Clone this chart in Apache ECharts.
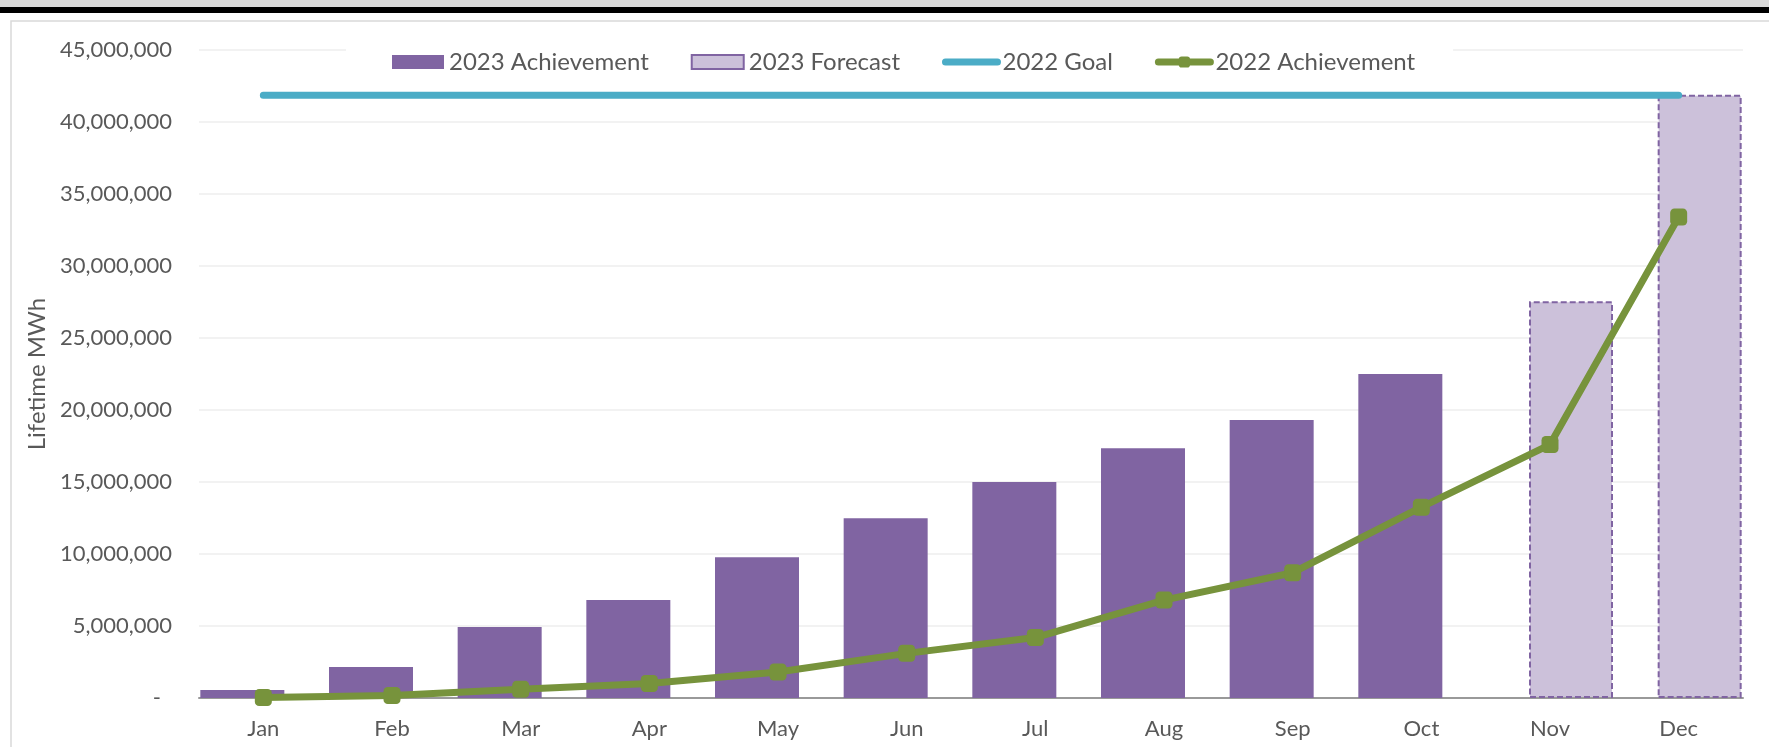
<!DOCTYPE html>
<html>
<head>
<meta charset="utf-8">
<title>Lifetime MWh</title>
<script src="https://cdn.jsdelivr.net/npm/echarts@6/dist/echarts.min.js"></script>
<style>
    html, body { margin: 0; padding: 0; background: #fff; }
    #main { width: 1769px; height: 747px; }
</style>
</head>
<body>
<div id="main"></div>
<script>
    // 月份
    var months = ['Jan', 'Feb', 'Mar', 'Apr', 'May', 'Jun', 'Jul', 'Aug', 'Sep', 'Oct', 'Nov', 'Dec'];

    // 2023 实际 / 预测 (MWh)
    var achievement2023 = [550000, 2150000, 4930000, 6800000, 9780000, 12480000, 15000000, 17350000, 19300000, 22500000, null, null];
    var forecast2023 = [null, null, null, null, null, null, null, null, null, null, 27550000, 41900000];

    // 2022 目标 / 实际
    var goal2022 = [41850000, 41850000, 41850000, 41850000, 41850000, 41850000, 41850000, 41850000, 41850000, 41850000, 41850000, 41850000];
    var achievement2022 = [30000, 180000, 600000, 1000000, 1800000, 3100000, 4200000, 6800000, 8700000, 13250000, 17600000, 33400000];

    // y 轴刻度
    var yMin = 0,
        yMax = 45000000,
        yStep = 5000000;

    var fontFamily = 'Lato, "Open Sans", sans-serif',
        textColor = '#595959';

    function fmtNum(v) {
        if (v === 0) {
            return '{z|-}';
        }
        return String(v).replace(/\B(?=(\d{3})+(?!\d))/g, ',');
    }

    var chart = echarts.init(document.getElementById('main'));

    var option = {
        backgroundColor: '#fff',
        animation: false,
        textStyle: {
            fontFamily: fontFamily,
            color: textColor
        },
        // 顶部条 + 图表边框
        graphic: [{
            type: 'rect',
            z: -10,
            shape: { x: 0, y: 0, width: 1769, height: 7 },
            style: { fill: '#D9D9D9' }
        }, {
            type: 'rect',
            z: -10,
            shape: { x: 0, y: 7, width: 1769, height: 6 },
            style: { fill: '#000' }
        }, {
            type: 'rect',
            z: -10,
            shape: { x: 11, y: 21, width: 1800, height: 800 },
            style: { fill: '#fff', stroke: '#D9D9D9', lineWidth: 1.5 }
        }],
        legend: {
            top: 38,
            left: 346,
            padding: [12, 38, 12, 46],
            backgroundColor: '#fff',
            itemGap: 42,
            itemWidth: 52,
            itemHeight: 14,
            lineStyle: { width: 'inherit', cap: 'round' },
            textStyle: {
                fontFamily: fontFamily,
                fontSize: 24,
                color: textColor
            },
            data: [
                { name: '2023 Achievement', icon: 'rect' },
                { name: '2023 Forecast', icon: 'rect' },
                // 目标线图例只显示线条
                { name: '2022 Goal', itemStyle: { color: 'rgba(0,0,0,0)' } },
                { name: '2022 Achievement' }
            ]
        },
        grid: {
            left: 199,
            right: 26,
            top: 50,
            bottom: 49,
            containLabel: false
        },
        xAxis: {
            type: 'category',
            data: months,
            axisLine: { lineStyle: { color: '#999', width: 2 } },
            axisTick: { show: false },
            axisLabel: {
                margin: 20,
                fontSize: 22,
                color: textColor,
                fontFamily: fontFamily
            }
        },
        yAxis: {
            type: 'value',
            min: yMin,
            max: yMax,
            interval: yStep,
            name: 'Lifetime MWh',
            nameLocation: 'middle',
            nameGap: 150,
            nameTextStyle: {
                fontSize: 24,
                color: textColor,
                fontFamily: fontFamily
            },
            axisLine: { show: false },
            axisTick: { show: false },
            splitLine: { lineStyle: { color: '#EEEEEE', width: 1.5 } },
            axisLabel: {
                margin: 27,
                fontSize: 22,
                color: textColor,
                fontFamily: fontFamily,
                formatter: fmtNum,
                rich: {
                    z: { fontSize: 22, color: textColor, padding: [0, 11, 0, 0] }
                }
            }
        },
        series: [{
            name: '2023 Achievement',
            type: 'bar',
            barWidth: 84,
            barGap: '-50%',
            itemStyle: { color: '#8064A2' },
            data: achievement2023
        }, {
            name: '2023 Forecast',
            type: 'bar',
            barWidth: 84,
            barGap: '-50%',
            itemStyle: {
                color: '#CCC1DA',
                borderColor: '#8064A2',
                borderWidth: 2,
                borderType: [6, 3]
            },
            data: forecast2023
        }, {
            name: '2022 Goal',
            type: 'line',
            symbol: 'none',
            lineStyle: { color: '#4BACC6', width: 7, cap: 'round' },
            itemStyle: { color: '#4BACC6' },
            data: goal2022
        }, {
            name: '2022 Achievement',
            type: 'line',
            symbol: 'roundRect',
            symbolSize: 17,
            lineStyle: { color: '#77933C', width: 7 },
            itemStyle: { color: '#77933C' },
            data: achievement2022
        }]
    };

    chart.setOption(option);
</script>
</body>
</html>
